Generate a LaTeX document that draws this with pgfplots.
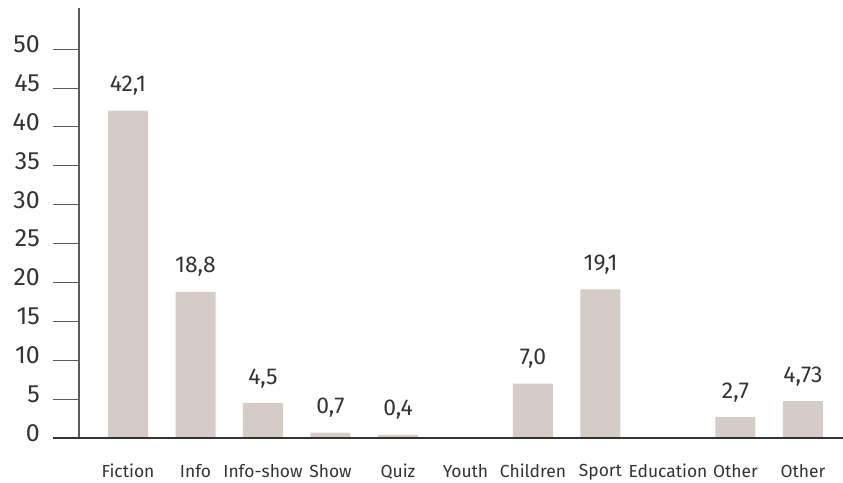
\documentclass[border=0pt]{standalone}
\usepackage{pgfplots}
\pgfplotsset{compat=1.18}
\usepackage{fontspec}
\setmainfont{Fira Sans}
\definecolor{barc}{HTML}{D5CCC7}
\definecolor{axc}{HTML}{5A5A5A}
\definecolor{txt}{HTML}{333333}
\begin{document}
\begin{tikzpicture}
\useasboundingbox (0,0) rectangle (843bp,483bp);
\begin{axis}[
  at={(79bp,45bp)}, anchor=south west,
  scale only axis, width=764bp, height=430bp,
  xmin=-0.726, xmax=10.593, ymin=0, ymax=55.3,
  clip=false,
  axis line style={draw=none},
  xtick={0,...,10},
  xticklabels={Fiction,Info,Info-show,Show,Quiz,Youth,Children,Sport,Education,Other,Other},
  xtick pos=bottom, ytick pos=left,
  x tick style={draw=none},
  ytick={0,5,...,50},
  y tick style={draw=axc, line width=1bp},
  major tick length=26bp,
  tick align=outside,
  xticklabel style={anchor=north, inner sep=0pt, text=txt, font=\fontsize{17.5}{20}\selectfont},
  yticklabel style={anchor=east, inner sep=0pt, text=txt, xshift=-13bp, yshift=5bp, font=\fontsize{25}{28}\selectfont},
  /pgf/number format/assume math mode=true,
]
\addplot[ybar, bar width=40bp, fill=barc, draw=none,
  nodes near coords, point meta=explicit symbolic,
  nodes near coords style={anchor=base, inner sep=0pt, yshift=19bp, text=txt, font=\fontsize{23}{26}\selectfont}]
  table[meta=lab] {
x y lab
0 42.1 {42,1}
1 18.8 {18,8}
2 4.5 {4,5}
3 0.7 {0,7}
4 0.4 {0,4}
6 7.0 {7,0}
7 19.1 {19,1}
9 2.7 {2,7}
10 4.73 {4,73}
};
\draw[axc, line width=1.2bp] (rel axis cs:0,0) -- (rel axis cs:0,1);
\draw[black!80, line width=2bp] ([xshift=-26bp]rel axis cs:0,0) -- (rel axis cs:1,0);
\end{axis}
\end{tikzpicture}
\end{document}
